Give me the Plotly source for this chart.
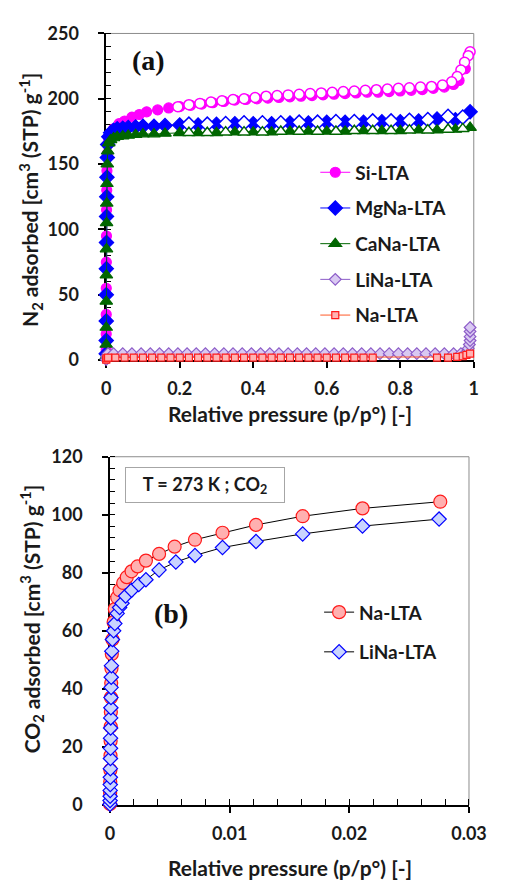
import plotly.graph_objects as go

# ---------------- Panel (a): N2 isotherms ----------------
si_ads_x = [0.00002, 0.00005, 0.0001, 0.0002, 0.0004, 0.0007, 0.001, 0.0015, 0.002, 0.003, 0.004,
            0.006, 0.01, 0.02, 0.035, 0.05, 0.07, 0.09, 0.11, 0.14, 0.17, 0.2, 0.23, 0.26, 0.29, 0.32,
            0.35, 0.38, 0.41, 0.44, 0.47, 0.5, 0.53, 0.56, 0.59, 0.62, 0.65, 0.68, 0.71, 0.74, 0.77,
            0.8, 0.83, 0.86, 0.89, 0.92, 0.945, 0.96, 0.977]
si_ads_y = [8, 20, 35, 55, 75, 95, 115, 130, 145, 158, 165,
            170, 173, 177, 181, 183, 186, 188, 190, 191.5, 193, 194, 195, 196, 197, 198,
            199, 199.5, 200, 200.5, 201, 201.5, 202, 202.5, 203, 203.5, 204, 204.5, 205, 205, 205.5,
            206, 206.5, 207, 208, 209, 211, 214, 223]
si_des_x = [0.99, 0.985, 0.975, 0.965, 0.955, 0.94, 0.915, 0.885, 0.855, 0.825, 0.795, 0.765, 0.735,
            0.705, 0.675, 0.645, 0.615, 0.585, 0.555, 0.525, 0.495, 0.465, 0.435, 0.405, 0.375, 0.345,
            0.315, 0.285, 0.255, 0.225, 0.195]
si_des_y = [236, 233, 228, 222, 217, 213, 210.5, 209.5, 209, 208.5, 208, 207.5, 207,
            206.5, 206, 205.5, 205, 204.5, 204, 203.5, 203, 202.5, 202, 201, 200, 199.5,
            198.5, 197.5, 196.5, 195.5, 194]

mg_ads_x = [0.00002, 0.00005, 0.0001, 0.0002, 0.0004, 0.0007, 0.001, 0.0015, 0.002, 0.003, 0.004,
            0.007, 0.012, 0.02, 0.03, 0.045, 0.06, 0.08, 0.1, 0.13, 0.16, 0.2, 0.25, 0.3, 0.35, 0.4,
            0.45, 0.5, 0.55, 0.6, 0.65, 0.7, 0.75, 0.8, 0.85, 0.9, 0.95, 0.99]
mg_ads_y = [5, 15, 30, 50, 70, 90, 110, 125, 140, 155, 165,
            171, 174, 176, 177, 177.5, 178, 178.5, 179, 179, 179.5, 180, 180, 180.5, 181, 181,
            181, 181.5, 181.5, 182, 182, 182, 182.5, 182.5, 183, 184.5, 184, 190]
mg_des_x = [0.97, 0.93, 0.875, 0.825, 0.775, 0.725, 0.675, 0.625, 0.575, 0.525, 0.475, 0.425,
            0.375, 0.325, 0.275, 0.225]
mg_des_y = [186, 186.5, 184, 183.5, 183, 183, 182.5, 182.5, 182, 182, 181.5, 181.5,
            181.5, 181, 180.5, 180.5]

ca_ads_x = mg_ads_x
ca_ads_y = [3, 12, 25, 45, 65, 85, 105, 120, 135, 150, 160,
            166, 168.5, 170, 171, 171.5, 172, 172.5, 173, 173, 173.5, 174, 174, 174, 174.5, 174.5,
            174.5, 175, 175, 175, 175, 175.5, 175.5, 175.5, 176, 176, 176.5, 178]
ca_des_x = mg_des_x
ca_des_y = [177, 176.5, 176, 176, 175.5, 175.5, 175.5, 175, 175, 175, 175, 174.5,
            174.5, 174.5, 174, 174]

li_x = [0.0, 0.001, 0.005, 0.02, 0.045, 0.07, 0.095, 0.12, 0.145, 0.17, 0.195, 0.22, 0.245, 0.27,
        0.295, 0.32, 0.345, 0.37, 0.395, 0.42, 0.445, 0.47, 0.495, 0.52, 0.545, 0.57, 0.595, 0.62,
        0.645, 0.67, 0.695, 0.72, 0.745, 0.77, 0.795, 0.82, 0.845, 0.87, 0.895, 0.92, 0.945, 0.965,
        0.98, 0.985, 0.988, 0.99, 0.99, 0.99, 0.99]
li_y = [0.5, 3, 5, 5, 5, 5, 5, 5, 5, 5, 5, 5, 5, 5,
        5, 5, 5, 5, 5, 5, 5, 5, 5, 5, 5, 5, 5, 5,
        5, 5, 5, 5, 5, 5, 5, 5, 5, 5, 5, 5, 5, 5,
        6, 9, 12, 15, 18, 22, 25]

na_x = [0.0, 0.001, 0.005, 0.025, 0.05, 0.075, 0.1, 0.125, 0.15, 0.175, 0.2, 0.225, 0.25, 0.275,
        0.3, 0.325, 0.35, 0.375, 0.4, 0.425, 0.45, 0.475, 0.5, 0.525, 0.55, 0.575, 0.6, 0.625,
        0.65, 0.675, 0.7, 0.725, 0.9, 0.93, 0.955, 0.97, 0.98, 0.99]
na_y = [0.5, 1.5, 2, 2, 2, 2, 2, 2, 2, 2, 2, 2, 2, 2,
        2, 2, 2, 2, 2, 2, 2, 2, 2, 2, 2, 2, 2, 2,
        2, 2, 2, 2, 2, 2, 2.5, 3, 4, 5]

# ---------------- Panel (b): CO2 isotherms at 273 K ----------------
co2_na_x = [0, 0.00001, 0.00002, 0.00003, 0.00004, 0.00005, 0.00006, 0.00007, 0.00008, 0.0001,
            0.00012, 0.00015, 0.0002, 0.0003, 0.0004, 0.0006, 0.0008, 0.0011, 0.0014, 0.0018,
            0.0023, 0.003, 0.0041, 0.0054, 0.0071, 0.0094, 0.0122, 0.0161, 0.0211, 0.0276]
co2_na_y = [0.3, 4, 8, 12, 17, 22, 27, 32, 37, 42,
            47, 52, 57, 63, 67.5, 71.5, 74, 76.5, 78.5, 80.5,
            82.2, 84.2, 86.5, 89, 91.4, 93.8, 96.5, 99.5, 102.2, 104.5]
co2_li_x = [0, 0.000005, 0.00001, 0.000015, 0.00002, 0.000025, 0.00003, 0.000035, 0.00004, 0.000045,
            0.00005, 0.00006, 0.00007, 0.00008, 0.00009, 0.0001, 0.00012, 0.00015, 0.0002, 0.0003,
            0.0004, 0.0006, 0.0008, 0.001, 0.0013, 0.0018, 0.0024, 0.003, 0.0041, 0.0055, 0.0071,
            0.0094, 0.0122, 0.0161, 0.0211, 0.0275]
co2_li_y = [0.2, 1.5, 3, 5, 7, 9.5, 12.5, 16, 19.5, 23,
            26.5, 30, 33.5, 37, 40.5, 44, 48, 53, 57, 60,
            62.5, 66, 68, 69.5, 72, 74, 76, 77.6, 81, 83.7, 86,
            88.7, 90.8, 93.4, 96.1, 98.5]

top_xticks = [0, 0.2, 0.4, 0.6, 0.8, 1]
top_yticks = [0, 50, 100, 150, 200, 250]
bot_xticks = [0, 0.01, 0.02, 0.03]
bot_xtext = ["0", "0.01", "0.02", "0.03"]
bot_yticks = [0, 20, 40, 60, 80, 100, 120]

W, H = 508, 891
FONT = "Lato"


def fx(p):
    return p / W


def fy(p):
    return 1 - p / H


fig = go.Figure()


def add(x, y, name, color, symbol, size, fill, edge, lw=1.0, linecolor=None, legend="legend",
        show=True, group=None, axes=("x", "y"), mlw=1.2):
    fig.add_trace(go.Scatter(
        x=x, y=y, name=name, mode="lines+markers",
        line=dict(color=linecolor or color, width=lw),
        marker=dict(symbol=symbol, size=size, color=fill, line=dict(color=edge, width=mlw)),
        showlegend=show, legendgroup=group or name, legend=legend,
        xaxis=axes[0], yaxis=axes[1], cliponaxis=False,
    ))


MAG = "#FF00FF"
BLU = "#0000FF"
GRN = "#006600"
PUR = "#8C5CC8"
RED = "#FF1A1A"

add(si_ads_x, si_ads_y, "Si-LTA", MAG, "circle", 10, MAG, MAG)
add(si_des_x, si_des_y, "Si-LTA des", MAG, "circle", 10, "white", MAG, show=False, group="Si-LTA", mlw=1.5)
add(mg_ads_x, mg_ads_y, "MgNa-LTA", BLU, "diamond", 11, BLU, BLU)
add(mg_des_x, mg_des_y, "MgNa-LTA des", BLU, "diamond", 11, "white", BLU, show=False, group="MgNa-LTA", mlw=1.5)
add(ca_ads_x, ca_ads_y, "CaNa-LTA", GRN, "triangle-up", 11, GRN, GRN)
add(ca_des_x, ca_des_y, "CaNa-LTA des", GRN, "triangle-up", 11, "white", GRN, show=False, group="CaNa-LTA", mlw=1.5)
add(li_x, li_y, "LiNa-LTA", PUR, "diamond", 9, "#D9C9F2", PUR)
add(na_x, na_y, "Na-LTA", RED, "square", 7, "#FFB3B3", RED, linecolor="#FF5A28")

add(co2_na_x, co2_na_y, "Na-LTA ", RED, "circle", 13, "#FFB0B0", RED, linecolor="black",
    legend="legend2", axes=("x2", "y2"))
add(co2_li_x, co2_li_y, "LiNa-LTA ", BLU, "diamond", 11, "#C9D4FF", BLU, linecolor="black",
    legend="legend2", axes=("x2", "y2"))

tickfont = dict(family=FONT, size=18, color="#1a1a1a", weight="bold")
common = dict(showgrid=False, zeroline=False, showline=True, linecolor="black", linewidth=1.5,
              tickcolor="black", tickfont=tickfont, layer="below traces", fixedrange=True)
legfont = dict(family=FONT, size=19, color="#1a1a1a", weight="bold")

fig.update_layout(
    width=W, height=H, margin=dict(l=0, r=0, t=0, b=0),
    paper_bgcolor="white", plot_bgcolor="white",
    xaxis=dict(domain=[fx(106), fx(491)], range=[0, 1], anchor="y", tickvals=top_xticks,
               ticks="outside", ticklen=6, tickwidth=1.5, ticklabelstandoff=5, **common),
    yaxis=dict(domain=[fy(357), fy(22)], range=[0, 250], anchor="x", tickvals=top_yticks,
               ticks="outside", ticklen=6, tickwidth=1.5, ticklabelstandoff=16,
               minor=dict(dtick=10, ticks="inside", ticklen=5, tickcolor="black", tickwidth=1),
               **common),
    xaxis2=dict(domain=[fx(110), fx(486)], range=[0, 0.03], anchor="y2", tickvals=bot_xticks,
                ticktext=bot_xtext, ticks="outside", ticklen=6, tickwidth=1.5, ticklabelstandoff=6,
                minor=dict(dtick=0.002, ticks="inside", ticklen=6, tickcolor="black", tickwidth=1),
                **common),
    yaxis2=dict(domain=[fy(813), fy(456)], range=[0, 120], anchor="x2", tickvals=bot_yticks,
                ticks="outside", ticklen=6, tickwidth=1.5, ticklabelstandoff=16,
                minor=dict(dtick=4, ticks="inside", ticklen=5, tickcolor="black", tickwidth=1),
                **common),
    legend=dict(x=fx(325), y=fy(145), xanchor="left", yanchor="top", bgcolor="rgba(0,0,0,0)",
                font=legfont, traceorder="grouped", tracegroupgap=8, itemwidth=30),
    legend2=dict(x=fx(329), y=fy(596), xanchor="left", yanchor="top", bgcolor="rgba(0,0,0,0)",
                 font=legfont, traceorder="grouped", tracegroupgap=12, itemwidth=30),
)

# gray frame (top and right borders)
frame = dict(type="line", line=dict(color="#8c8c8c", width=1), layer="below")
fig.add_shape(xref="x domain", yref="y domain", x0=0, x1=1, y0=1, y1=1, **frame)
fig.add_shape(xref="x domain", yref="y domain", x0=1, x1=1, y0=0, y1=1, **frame)
fig.add_shape(xref="x2 domain", yref="y2 domain", x0=0, x1=1, y0=1, y1=1, **frame)
fig.add_shape(xref="x2 domain", yref="y2 domain", x0=1, x1=1, y0=0, y1=1, **frame)

lab = dict(family=FONT, size=21, color="#1a1a1a", weight="bold")
ann = [
    dict(x=fx(298), y=fy(412), text="Relative pressure (p/p°) [-]", font=lab),
    dict(x=fx(298), y=fy(877), text="Relative pressure (p/p°) [-]", font=lab),
    dict(x=fx(26), y=fy(193), text="N<sub>2</sub> adsorbed [cm<sup>3</sup> (STP) g<sup>-1</sup>]",
         font=lab, textangle=-90),
    dict(x=fx(28), y=fy(622), text="CO<sub>2</sub> adsorbed [cm<sup>3</sup> (STP) g<sup>-1</sup>]",
         font=lab, textangle=-90),
    dict(x=fx(150), y=fy(50), text="(a)",
         font=dict(family="Liberation Serif", size=28, color="#111111", weight="bold")),
    dict(x=fx(174), y=fy(617), text="(b)",
         font=dict(family="Liberation Serif", size=28, color="#111111", weight="bold")),
    dict(x=fx(209), y=fy(485), text="T = 273 K ; CO<sub>2</sub>",
         font=dict(family=FONT, size=18, color="#1a1a1a", weight="bold"),
         bordercolor="#a6a6a6", borderwidth=1, width=156, height=32, bgcolor="white"),
]
for a in ann:
    fig.add_annotation(xref="paper", yref="paper", showarrow=False, xanchor="center",
                       yanchor="middle", **a)

fig.write_html("out.html")
